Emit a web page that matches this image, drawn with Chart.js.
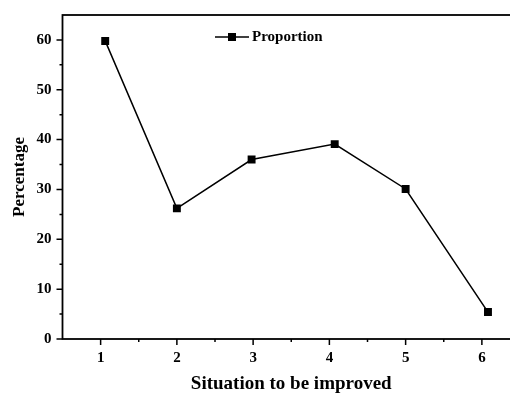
<!DOCTYPE html>
<html>
<head>
<meta charset="utf-8">
<script src="https://cdn.jsdelivr.net/npm/chart.js@4.4.0/dist/chart.umd.min.js"></script>
<style>
  html, body { margin: 0; padding: 0; background: #fff; overflow: hidden; }
  #wrap { width: 522px; height: 398px; }
</style>
</head>
<body>
<div id="wrap"><canvas id="lineChart" width="522" height="398"></canvas></div>
<script>
// situation index (as plotted) and share in percent
const situations = [1.06, 2, 2.98, 4.07, 5, 6.08];
const proportion = [59.8, 26.2, 36.0, 39.1, 30.1, 5.4];
const xTickLabels = ['1', '2', '3', '4', '5', '6'];
const yTickLabels = ['0', '10', '20', '30', '40', '50', '60'];

const serif = 'Liberation Serif';

// frame, outward major/minor ticks and the small legend inside the plot
const framePlugin = {
    id: 'frame',
    afterDraw(chart) {
        const ctx = chart.ctx;
        const area = chart.chartArea;
        const xs = chart.scales.x;
        const ys = chart.scales.y;
        ctx.save();
        ctx.strokeStyle = '#000';
        ctx.lineWidth = 1.8;
        ctx.strokeRect(area.left, area.top, area.right - area.left, area.bottom - area.top);

        ctx.lineWidth = 1.5;
        ctx.beginPath();
        xs.ticks.forEach(t => {
            if (t.value <= xs.min) return;
            const px = xs.getPixelForValue(t.value);
            const len = Number.isInteger(t.value) ? 6 : 3;
            ctx.moveTo(px, area.bottom);
            ctx.lineTo(px, area.bottom + len);
        });
        ys.ticks.forEach(t => {
            if (t.value >= ys.max) return;
            const py = ys.getPixelForValue(t.value);
            const len = t.value % 10 === 0 ? 6 : 3;
            ctx.moveTo(area.left, py);
            ctx.lineTo(area.left - len, py);
        });
        ctx.stroke();

        // legend
        const ds = chart.data.datasets[0];
        const lx = 215, ly = 37;
        ctx.lineWidth = 1.5;
        ctx.beginPath();
        ctx.moveTo(lx, ly);
        ctx.lineTo(lx + 34, ly);
        ctx.stroke();
        ctx.fillStyle = '#000';
        ctx.fillRect(lx + 13, ly - 4, 8, 8);
        ctx.font = 'bold 15px "' + serif + '"';
        ctx.textBaseline = 'middle';
        ctx.textAlign = 'left';
        ctx.fillText(ds.label, lx + 37, ly);
        ctx.restore();
    }
};

new Chart(document.getElementById('lineChart'), {
    type: 'line',
    data: {
        datasets: [{
            label: 'Proportion',
            data: situations.map((x, i) => ({ x: x, y: proportion[i] })),
            borderColor: '#000',
            backgroundColor: '#000',
            borderWidth: 1.5,
            pointStyle: 'rect',
            pointRadius: 5.6,
            pointHoverRadius: 5.6,
            pointBorderWidth: 0,
            tension: 0,
            fill: false
        }]
    },
    options: {
        responsive: false,
        animation: false,
        layout: {
            autoPadding: false,
            padding: { top: 15, right: 2, left: 0, bottom: 0 }
        },
        plugins: {
            legend: { display: false },
            tooltip: { enabled: false }
        },
        scales: {
            x: {
                type: 'linear',
                min: 0.5,
                max: 6.5,
                grid: { display: false, drawTicks: false },
                border: { display: false },
                ticks: {
                    stepSize: 0.5,
                    padding: 10,
                    color: '#000',
                    maxRotation: 0,
                    autoSkip: false,
                    font: { family: serif, weight: 'bold', size: 15 },
                    callback: v => Number.isInteger(v) && xTickLabels.includes(String(v)) ? String(v) : ''
                },
                title: {
                    display: true,
                    text: 'Situation to be improved',
                    color: '#000',
                    font: { family: serif, weight: 'bold', size: 19 },
                    padding: { top: 0, bottom: 3 }
                },
                afterFit: s => {
                    s.height = 59;
                    s.paddingLeft = 0;
                    s.paddingRight = 0;
                }
            },
            y: {
                min: 0,
                max: 65,
                grid: { display: false, drawTicks: false },
                border: { display: false },
                ticks: {
                    stepSize: 5,
                    padding: 11,
                    color: '#000',
                    autoSkip: false,
                    font: { family: serif, weight: 'bold', size: 15 },
                    callback: v => yTickLabels.includes(String(v)) ? String(v) : ''
                },
                title: {
                    display: true,
                    text: 'Percentage',
                    color: '#000',
                    font: { family: serif, weight: 'bold', size: 17 },
                    padding: { top: 9, bottom: 0 }
                },
                afterFit: s => {
                    s.width = 62.5;
                    s.paddingTop = 0;
                    s.paddingBottom = 0;
                }
            }
        }
    },
    plugins: [framePlugin]
});
</script>
</body>
</html>
